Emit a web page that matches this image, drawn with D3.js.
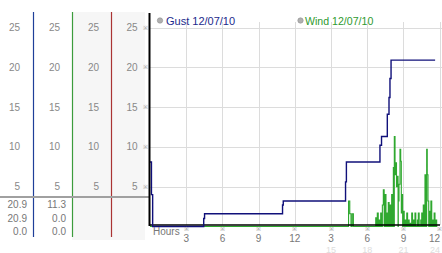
<!DOCTYPE html>
<html><head><meta charset="utf-8">
<script src="https://cdn.jsdelivr.net/npm/d3@7"></script>
<style>body{margin:0;background:#fff;} svg{display:block;font-family:"Liberation Sans",Arial,sans-serif;}</style>
</head><body><svg id="c" width="442" height="253"></svg>
<script>
// ---- data ----
const yTicks = [5, 10, 15, 20, 25];
const xTickHours = [3, 6, 9, 12, 15, 18, 21, 24];
const xTickLabels = ["3", "6", "9", "12", "3", "6", "9", "12"];
const xTickLabels2 = ["", "", "", "", "15", "18", "21", "24"];
const legendLabels = ["Gust 12/07/10", "Wind 12/07/10"];
const statsGust = ["20.9", "20.9", "0.0"];
const statsWind = ["11.3", "0.0", "0.0"];
// [hour, mph] step readings
const gustReadings = [
  [0, 8.1], [0.12, 4.0], [0.22, 0], [4.45, 1.0], [4.52, 1.6], [10.98, 2.7], [11.04, 3.2],
  [16.20, 5.6], [16.27, 8.1], [19.05, 10.2], [19.18, 11.3], [19.66, 14.1], [19.80, 16.2],
  [19.88, 18.6], [19.97, 20.9], [23.62, 20.9]
];
const windReadings = [
  [0, 0], [16.45, 3.2], [16.55, 1.6], [16.65, 0], [16.75, 1.6], [16.85, 0],
  [18.70, 1.1], [18.78, 0], [18.83, 1.7], [18.91, 0], [18.97, 0.8], [19.04, 0],
  [19.11, 1.7], [19.18, 0], [19.25, 2.7], [19.33, 4.6], [19.40, 0], [19.47, 4.0],
  [19.55, 0], [19.61, 1.7], [19.68, 0], [19.74, 3.0], [19.81, 0], [19.88, 2.7],
  [19.95, 0], [20.02, 4.0], [20.09, 0], [20.16, 7.4], [20.21, 0], [20.24, 11.3],
  [20.30, 6.5], [20.36, 8.0], [20.42, 5.0], [20.49, 6.3], [20.55, 0], [20.57, 3.2],
  [20.63, 5.3], [20.71, 9.7], [20.77, 8.2], [20.82, 1.7], [20.87, 4.0], [20.93, 0],
  [20.99, 1.9], [21.06, 0], [21.13, 0.8], [21.20, 0], [21.27, 1.7], [21.34, 0],
  [21.40, 0.8], [21.47, 0], [21.54, 0.4], [21.60, 0], [21.68, 1.7], [21.75, 0],
  [21.81, 0.8], [21.88, 0], [21.95, 1.7], [22.02, 0], [22.15, 0.8], [22.20, 0],
  [22.23, 1.7], [22.30, 0], [22.43, 0.8], [22.48, 0], [22.51, 1.7], [22.58, 0],
  [22.64, 2.7], [22.71, 0], [22.78, 6.5], [22.85, 0], [22.92, 9.7], [22.97, 6.5],
  [23.03, 3.2], [23.09, 0], [23.14, 1.9], [23.20, 0], [23.27, 3.2], [23.34, 0],
  [23.40, 0.8], [23.47, 0], [23.54, 1.7], [23.61, 0], [23.68, 0.8], [23.75, 0], [23.80, 0]
];

// ---- drawing ----
const svg = d3.select("#c");
const x = d3.scaleLinear().domain([0, 24]).range([150, 439.7]);
const y = d3.scaleLinear().domain([0, 25]).range([226.5, 27.5]);

// shaded panels
svg.append("rect").attr("x", 72).attr("y", 12).attr("width", 73).attr("height", 228).attr("fill", "#f6f6f6");

// gridlines
svg.append("g").selectAll("line").data(yTicks).join("line")
  .attr("x1", 150).attr("x2", 442).attr("y1", d => Math.round(y(d)) + 0.5).attr("y2", d => Math.round(y(d)) + 0.5)
  .attr("stroke", "#dcdcdc");
svg.append("g").selectAll("line").data(xTickHours).join("line")
  .attr("x1", d => Math.round(x(d)) + 0.5).attr("x2", d => Math.round(x(d)) + 0.5).attr("y1", 22).attr("y2", 225)
  .attr("stroke", "#dcdcdc");

// left panel column lines
const colLines = [{x: 33.5, c: "#1f3f99"}, {x: 72.5, c: "#3c9c3c"}, {x: 111.5, c: "#aa3333"}];
svg.append("g").selectAll("line").data(colLines).join("line")
  .attr("x1", d => d.x).attr("x2", d => d.x).attr("y1", 12).attr("y2", 237)
  .attr("stroke", d => d.c).attr("stroke-width", 1.2);

// grey divider
svg.append("line").attr("x1", 0).attr("x2", 149).attr("y1", 197).attr("y2", 197)
  .attr("stroke", "#a0a0a0").attr("stroke-width", 2);

// column tick labels
const colRight = [20, 60, 99, 137.5];
colRight.forEach(cx => {
  svg.append("g").selectAll("text").data(yTicks).join("text")
    .attr("x", cx).attr("y", d => y(d) + 3.5).attr("text-anchor", "end")
    .attr("font-size", 10).attr("fill", "#888").text(d => d);
});
// small marks
svg.append("g").selectAll("text").data(yTicks).join("text")
  .attr("x", 145.5).attr("y", d => y(d) + 2).attr("text-anchor", "middle")
  .attr("font-size", 6).attr("fill", "#999").text("※");

// stats
const statY = [208, 222, 235];
svg.append("g").selectAll("text").data(statsGust).join("text")
  .attr("x", 27).attr("y", (d, i) => statY[i]).attr("text-anchor", "end")
  .attr("font-size", 10).attr("fill", "#777").text(d => d);
svg.append("g").selectAll("text").data(statsWind).join("text")
  .attr("x", 66).attr("y", (d, i) => statY[i]).attr("text-anchor", "end")
  .attr("font-size", 10).attr("fill", "#777").text(d => d);

// series
const line = d3.line().x(d => x(d[0])).y(d => y(d[1])).curve(d3.curveStepAfter);
svg.append("path").attr("d", line(windReadings)).attr("fill", "none")
  .attr("stroke", "#2fa82f").attr("stroke-width", 1.1);
// axis lines
svg.append("line").attr("x1", 150).attr("x2", 440).attr("y1", 225).attr("y2", 225)
  .attr("stroke", "#000").attr("stroke-width", 1.3);
svg.append("path").attr("d", line(gustReadings)).attr("fill", "none")
  .attr("stroke", "#10107a").attr("stroke-width", 1.4);
svg.append("line").attr("x1", 149.5).attr("x2", 149.5).attr("y1", 13).attr("y2", 226)
  .attr("stroke", "#000").attr("stroke-width", 2);

// legend
const legendPos = [{cx: 160, tx: 166, c: "#1c2a8c"}, {cx: 300.5, tx: 305, c: "#2f9a2f"}];
legendLabels.forEach((t, i) => {
  const p = legendPos[i];
  svg.append("circle").attr("cx", p.cx).attr("cy", 20.5).attr("r", 2.7)
    .attr("fill", "#b0b0b0").attr("stroke", "#909090").attr("stroke-width", 0.6);
  svg.append("text").attr("x", p.tx).attr("y", 24.5).attr("font-size", i === 0 ? 11 : 10.6)
    .attr("fill", p.c).text(t);
});

// x axis labels
svg.append("text").attr("x", 153).attr("y", 235).attr("font-size", 10).attr("fill", "#777").text("Hours");
const last = xTickHours.length - 1;
svg.append("g").selectAll("text").data(xTickHours).join("text")
  .attr("x", d => x(d)).attr("y", 231).attr("text-anchor", "middle")
  .attr("font-size", 6).attr("fill", "#999").text("※");
svg.append("g").selectAll("text").data(xTickHours).join("text")
  .attr("x", (d, i) => i === last ? 440 : x(d)).attr("y", 241.5)
  .attr("text-anchor", (d, i) => i === last ? "end" : "middle")
  .attr("font-size", 10).attr("fill", "#777").text((d, i) => xTickLabels[i]);
svg.append("g").selectAll("text").data(xTickHours).join("text")
  .attr("x", (d, i) => i === last ? 440 : x(d)).attr("y", 252.5)
  .attr("text-anchor", (d, i) => i === last ? "end" : "middle")
  .attr("font-size", 9).attr("fill", "#ddd").text((d, i) => xTickLabels2[i]);
</script></body></html>
